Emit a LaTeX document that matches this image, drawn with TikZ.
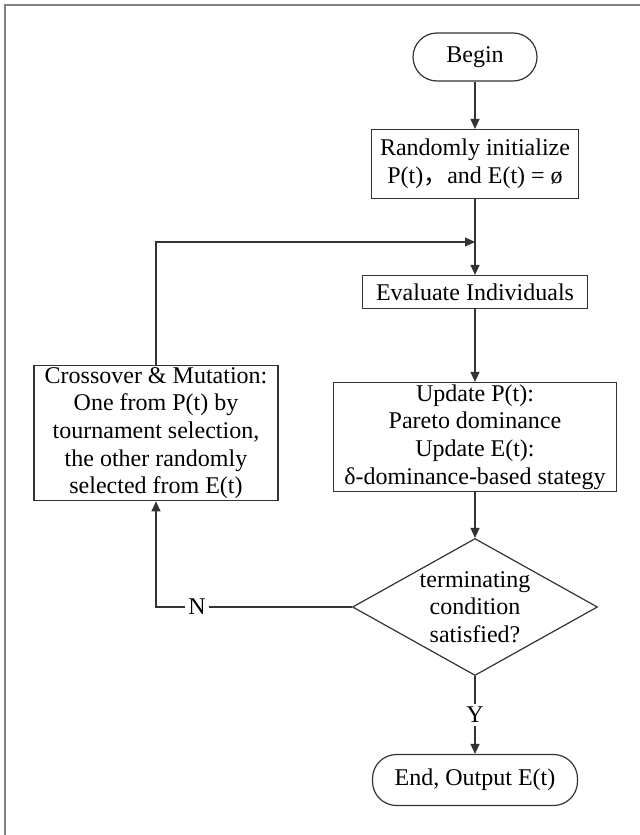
\documentclass[tikz,border=0pt]{standalone}
\usepackage{fontspec}
\setmainfont{Liberation Serif}
\newfontfamily\cjk{Noto Sans CJK SC}
\usetikzlibrary{shapes.geometric, arrows.meta}

\begin{document}
\begin{tikzpicture}[x=0.5pt, y=-0.5pt,
        every node/.style={font=\fontsize{12}{13.8}\selectfont, align=center},
        stepbox/.style={draw=black!80, line width=0.6pt, inner sep=1pt},
        terminal/.style={stepbox, rounded corners=12pt},
        decision/.style={draw=black!80, line width=0.6pt, diamond, aspect=1.8, inner sep=0pt},
        flow/.style={draw=black!80, line width=0.6pt, -{Triangle[length=5pt, width=4.5pt]}},
        tag/.style={fill=white, inner sep=1.5pt}]
    \useasboundingbox (0,0) rectangle (640,835);
    \draw[gray, line width=1pt] (5,835) -- (5,5) -- (640,5);
    \node[terminal, minimum width=62pt, minimum height=24pt] (begin) at (475,57) {Begin};
    \node[stepbox, minimum width=103.5pt, minimum height=34.5pt] (init) at (475,164)
        {Randomly initialize\\P(t){\cjk ，}and E(t) = ø};
    \coordinate (merge) at (475,242);
    \node[stepbox, minimum width=112.5pt, minimum height=16.5pt] (eval) at (475,292) {Evaluate Individuals};
    \node[stepbox, minimum width=141.5pt, minimum height=54.5pt] (update) at (475,437)
        {Update P(t):\\Pareto dominance\\Update E(t):\\δ-dominance-based stategy};
    \node[decision, minimum width=122.5pt, minimum height=68.5pt] (check) at (475,607)
        {terminating\\condition\\satisfied?};
    \node[terminal, minimum width=102.5pt, minimum height=25.5pt] (stop) at (475,780) {End, Output E(t)};
    \node[stepbox, minimum width=122pt, minimum height=67.5pt] (cross) at (156,433)
        {Crossover \& Mutation:\\One from P(t) by\\tournament selection,\\the other randomly\\selected from E(t)};
    \coordinate (turn) at (cross.south |- check.west);

    \draw[flow] (begin) -- (init);
    \draw[flow] (init) -- (eval);
    \draw[flow] (eval) -- (update);
    \draw[flow] (update) -- (check);
    \draw[flow] (check) -- node[tag] {Y} (stop);
    \draw[flow] (check.west) -- node[tag, pos=0.79] {N} (turn) -- (cross.south);
    \draw[flow] (cross.north) |- (merge);
\end{tikzpicture}
\end{document}
